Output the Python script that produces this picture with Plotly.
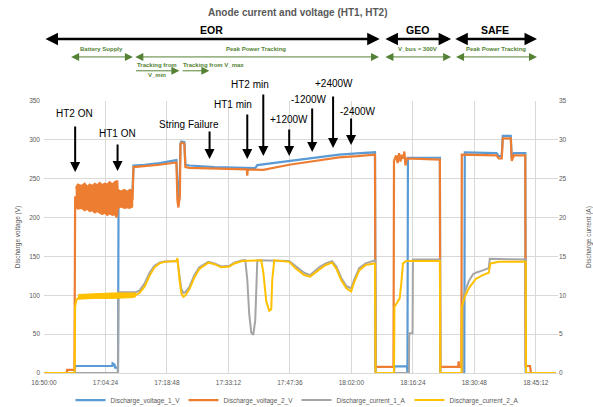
import plotly.graph_objects as go

DAY = "2021-03-15 "

# ---- Discharge voltage HT1 (V) ----
V1_T = ["16:50:00", "16:57:10", "16:57:20", "17:06:00", "17:06:04", "17:06:30", "17:06:40", "17:07:14",
        "17:07:20", "17:07:28", "17:10:44", "17:10:58", "17:13:32", "17:17:03", "17:21:01", "17:21:15",
        "17:21:29", "17:21:43", "17:21:58", "17:22:11", "17:22:53", "17:23:07", "17:24:04", "17:30:00",
        "17:37:09", "17:39:29", "17:39:58", "17:47:26", "17:53:00", "17:57:29", "17:59:08", "18:03:20",
        "18:07:19", "18:07:32", "18:07:40", "18:11:59", "18:12:05", "18:15:01", "18:15:08", "18:15:15",
        "18:22:44", "18:22:50", "18:28:27", "18:28:34", "18:36:00", "18:36:31", "18:37:13", "18:37:28",
        "18:39:20", "18:39:34", "18:40:05", "18:42:44", "18:42:50", "18:49:50"]
V1 = [0, 0, 9, 9, 12.5, 11, 7, 7,
      0, 232, 234, 267, 268, 270, 274, 230,
      218, 226, 296, 298, 297, 268, 267, 265,
      264, 263.5, 267.5, 273, 277, 280.5, 281, 282.5,
      284.5, 284, 0, 0, 8.5, 8.5, 0, 277,
      277, 0, 0, 284, 283, 279, 279, 305,
      305, 276, 283, 283, 0, 0]

# ---- Discharge voltage HT2 (V) ----
V2_T = ["16:50:00", "16:55:18", "16:55:25", "16:57:08", "16:57:18", "17:07:14", "17:07:28", "17:10:44",
        "17:10:58", "17:13:32", "17:17:03", "17:21:01", "17:21:08", "17:21:15", "17:21:29", "17:21:43",
        "17:21:50", "17:21:58", "17:22:11", "17:22:53", "17:23:07", "17:24:04", "17:30:00", "17:37:30",
        "17:37:37", "17:37:44", "17:41:22", "17:47:26", "17:53:00", "17:57:29", "17:59:08", "18:03:20",
        "18:07:19", "18:07:32", "18:07:40", "18:11:52", "18:11:59", "18:12:30", "18:12:50", "18:13:10",
        "18:13:30", "18:13:50", "18:14:10", "18:14:25", "18:14:40", "18:15:00", "18:22:44", "18:22:50",
        "18:27:00", "18:27:08", "18:27:15", "18:27:46", "18:27:52", "18:36:00", "18:36:31", "18:37:13",
        "18:37:28", "18:39:20", "18:39:34", "18:40:05", "18:42:44", "18:42:50", "18:43:50", "18:44:05",
        "18:49:50"]
V2 = [0, 0, 4, 4, 226, 226, 224, 224,
      265, 266, 268, 271, 232, 222, 213, 220,
      228, 294, 296.5, 295, 265, 264, 263, 262,
      254, 262, 261.5, 268, 272.5, 276, 277.5, 279,
      281.5, 281, 8, 8, 273, 280, 270, 283,
      272, 281, 276, 285, 267, 276, 274.5, 8,
      8, 15, 8, 8, 281, 280, 276, 276,
      302, 302, 273, 280, 280, 9, 9, 0,
      0]

# Ripple envelope of HT2 voltage during start-up
V2_RIP_T = ["16:57:25", "16:57:53", "16:58:50", "16:59:31", "17:00:10", "17:00:41", "17:01:20", "17:01:51",
            "17:02:30", "17:03:01", "17:03:40", "17:04:11", "17:04:50", "17:05:21", "17:06:00", "17:06:32",
            "17:07:00", "17:07:14", "17:07:20", "17:08:00", "17:08:52", "17:09:30", "17:10:02", "17:10:44"]
V2_RIP_HI = [238, 243, 241, 244, 240, 243, 241, 244, 242, 245, 242, 244,
             243, 246, 243, 246, 247, 247, 236, 234, 236, 233, 236, 235]
V2_RIP_LO = [214, 211, 212, 209, 211, 208, 209, 206, 208, 206, 204, 206,
             203, 205, 203, 204, 200, 204, 212, 214, 212, 213, 212, 214]

# ---- Discharge current HT1 (A) ----
I1_T = ["16:50:00", "17:07:20", "17:07:28", "17:11:26", "17:12:22", "17:13:32", "17:14:43", "17:15:53",
        "17:17:03", "17:18:13", "17:21:01", "17:21:15", "17:21:43", "17:22:11", "17:22:39", "17:23:07",
        "17:24:04", "17:25:14", "17:26:24", "17:28:30", "17:29:54", "17:31:32", "17:33:25", "17:34:35",
        "17:36:27", "17:37:09", "17:37:37", "17:38:05", "17:38:33", "17:39:01", "17:39:29", "17:39:44",
        "17:39:58", "17:47:26", "17:49:04", "17:50:56", "17:52:21", "17:54:27", "17:56:00", "17:57:29",
        "17:58:30", "17:59:40", "18:00:50", "18:01:56", "18:02:40", "18:03:50", "18:05:20", "18:07:19",
        "18:07:32", "18:07:40", "18:15:29", "18:15:33", "18:16:20", "18:16:25", "18:22:44", "18:22:50",
        "18:28:06", "18:28:12", "18:28:34", "18:29:30", "18:30:30", "18:31:08", "18:32:47", "18:34:11",
        "18:34:25", "18:42:50", "18:42:55", "18:49:50"]
I1 = [0, 0, 10.4, 10.4, 10.6, 11.5, 12.9, 13.8,
      14.2, 14.35, 14.4, 14.6, 12.6, 10.8, 10.3, 10.4,
      11.1, 12.6, 13.6, 14.3, 14.1, 13.7, 13.8, 14.2,
      14.5, 14.5, 12.0, 7.5, 5.2, 4.9, 6.8, 12.5,
      14.5, 14.4, 13.7, 12.9, 12.6, 13.6, 14.1, 14.4,
      13.7, 12.2, 11.2, 10.9, 12.0, 13.5, 14.1, 14.4,
      14.5, 0, 0, 5.1, 5.1, 14.6, 14.6, 0,
      0, 9.9, 10.4, 11.8, 12.7, 12.9, 13.2, 13.5,
      14.7, 14.6, 0, 0]

# ---- Discharge current HT2 (A) ----
I2_T = ["16:50:00", "16:57:10", "16:57:17", "16:57:35", "16:58:20", "17:07:14", "17:10:44", "17:11:26",
        "17:12:22", "17:13:32", "17:14:43", "17:15:53", "17:17:03", "17:18:13", "17:21:01", "17:21:15",
        "17:21:43", "17:22:11", "17:22:39", "17:23:07", "17:24:04", "17:25:14", "17:26:24", "17:28:30",
        "17:29:54", "17:31:32", "17:33:25", "17:34:35", "17:36:27", "17:40:53", "17:41:22", "17:42:04",
        "17:42:46", "17:43:14", "17:43:28", "17:43:56", "17:47:26", "17:49:04", "17:50:56", "17:52:21",
        "17:54:27", "17:56:00", "17:57:29", "17:58:30", "17:59:40", "18:00:50", "18:01:56", "18:02:40",
        "18:03:50", "18:05:20", "18:07:19", "18:07:32", "18:07:40", "18:11:59", "18:12:05", "18:12:41",
        "18:13:19", "18:13:41", "18:14:05", "18:14:47", "18:22:44", "18:22:50", "18:27:48", "18:27:52",
        "18:28:34", "18:29:30", "18:31:08", "18:32:47", "18:34:11", "18:34:35", "18:36:31", "18:42:50",
        "18:42:55", "18:49:50"]
I2 = [0, 0, 8.5, 9.4, 9.8, 9.9, 9.9, 10.0,
      10.3, 11.1, 12.5, 13.6, 14.1, 14.3, 14.4, 14.8,
      12.1, 10.2, 9.8, 10.0, 10.8, 12.3, 13.4, 14.2,
      14.0, 13.6, 13.7, 14.1, 14.4, 14.5, 13.0, 9.2,
      8.0, 8.2, 12.0, 14.5, 14.3, 13.4, 12.6, 12.4,
      13.3, 13.9, 14.2, 13.4, 11.9, 10.9, 10.5, 11.7,
      13.2, 13.9, 14.1, 14.1, 0, 0, 8.5, 9.0,
      9.6, 11.5, 14.1, 14.4, 14.4, 0, 0, 8.5,
      9.8, 10.9, 12.1, 12.6, 12.9, 14.1, 14.3, 14.3,
      0, 0]

# Ripple envelope of HT2 current during start-up
I2_RIP_T = ["16:58:00", "17:02:00", "17:06:00", "17:10:44", "17:11:26"]
I2_RIP_HI = [10.1, 10.2, 10.3, 10.3, 10.3]
I2_RIP_LO = [9.5, 9.6, 9.6, 9.7, 9.8]

# ---- Mission phases ----
PHASES = ["EOR", "GEO", "SAFE"]
PHASE_START = ["16:50:00", "18:09:38", "18:26:00"]
PHASE_END = ["18:08:38", "18:25:22", "18:45:29"]

MODES = ["Battery Supply", "Peak Power Tracking", "V_bus = 300V", "Peak Power Tracking"]
MODE_START = ["16:56:00", "17:11:02", "18:09:38", "18:26:10"]
MODE_END = ["17:10:49", "18:08:28", "18:25:22", "18:45:29"]

TRACK_START = ["17:11:12", "17:22:07"]
TRACK_END = ["17:21:43", "17:28:44"]

# ---- Events (arrow tip / tail and label position in volts) ----
EVENTS = ["HT2 ON", "HT1 ON", "String Failure", "HT1 min", "HT2 min", "+1200W", "-1200W", "+2400W", "-2400W"]
EVENT_T = ["16:57:18", "17:07:14", "17:28:47", "17:37:37", "17:41:22", "17:47:26", "17:52:49", "17:57:43", "18:01:56"]
EVENT_HEAD = [258.6, 260, 275.4, 275.4, 279.2, 279.2, 284.4, 289.5, 293.4]
EVENT_TAIL = [319, 296, 312.7, 334.6, 360.3, 315.3, 342.3, 357.7, 329.4]
EVENT_TEXT_T = ["16:57:11", "17:07:14", "17:24:00", "17:34:13", "17:38:16", "17:47:26", "17:52:06", "17:57:57", "18:03:28"]
EVENT_TEXT_Y = [333.3, 308.8, 320.4, 344.9, 370.6, 325.6, 351.3, 371.9, 337.1]

V_MAX = 350


def ts(values):
    return [DAY + v for v in values]


def mid(a, b):
    import pandas as pd
    ta, tb = pd.Timestamp(DAY + a), pd.Timestamp(DAY + b)
    return str(ta + (tb - ta) / 2)


BLUE, ORANGE, GREY, YELLOW = "#5B9BD5", "#ED7D31", "#A5A5A5", "#FFC000"
GREEN = "#548235"
FONT = "Liberation Sans"
TXT = "#595959"

fig = go.Figure()

fig.add_trace(go.Scatter(x=ts(V1_T), y=V1, name="Discharge_voltage_1_V", mode="lines",
                         line=dict(color=BLUE, width=2.2)))
fig.add_trace(go.Scatter(x=ts(V2_RIP_T) + ts(V2_RIP_T)[::-1], y=V2_RIP_HI + V2_RIP_LO[::-1],
                         mode="lines", fill="toself", fillcolor=ORANGE,
                         line=dict(color=ORANGE, width=1.5), showlegend=False, hoverinfo="skip"))
fig.add_trace(go.Scatter(x=ts(V2_T), y=V2, name="Discharge_voltage_2_V", mode="lines",
                         line=dict(color=ORANGE, width=2.2)))
fig.add_trace(go.Scatter(x=ts(I1_T), y=I1, name="Discharge_current_1_A", mode="lines",
                         line=dict(color=GREY, width=2), yaxis="y2"))
fig.add_trace(go.Scatter(x=ts(I2_RIP_T) + ts(I2_RIP_T)[::-1], y=I2_RIP_HI + I2_RIP_LO[::-1],
                         mode="lines", fill="toself", fillcolor=YELLOW,
                         line=dict(color=YELLOW, width=1), showlegend=False, hoverinfo="skip", yaxis="y2"))
fig.add_trace(go.Scatter(x=ts(I2_T), y=I2, name="Discharge_current_2_A", mode="lines",
                         line=dict(color=YELLOW, width=2), yaxis="y2"))

ann = []


def label(x, y, text, size, color, xref="x", yref="y domain", xanchor="center", bold=False):
    ann.append(dict(xref=xref, yref=yref, x=x, y=y, text=text, showarrow=False,
                    xanchor=xanchor, yanchor="middle",
                    font=dict(family=FONT, size=size, color=color, weight="bold" if bold else "normal")))


def span_arrow(a, b, y, color, width, size, both=True):
    ann.append(dict(xref="x", yref="y domain", axref="x", ayref="y domain",
                    x=DAY + b, y=y, ax=DAY + a, ay=y, text="", showarrow=True,
                    arrowside="end+start" if both else "end", arrowhead=2, arrowsize=size,
                    arrowwidth=width, arrowcolor=color))


# chart title
label(0.493, 1.327, "Anode current and voltage (HT1, HT2)", 10, TXT, xref="paper", yref="paper", bold=True)

# phase bars (black double arrows)
for name, a, b in zip(PHASES, PHASE_START, PHASE_END):
    span_arrow(a, b, 1.228, "black", 2.5, 1)
    label(mid(a, b), 1.262, name, 10.5, "black", bold=True)

# power modes (green double arrows)
for name, a, b in zip(MODES, MODE_START, MODE_END):
    span_arrow(a, b, 1.162, GREEN, 1, 1.6)
    label(mid(a, b), 1.19, name, 6, GREEN, bold=True)

for a, b in zip(TRACK_START, TRACK_END):
    span_arrow(a, b, 1.111, GREEN, 1, 1.6, both=False)
label(mid(TRACK_START[0], TRACK_END[0]), 1.134, "Tracking from", 6, GREEN, bold=True)
label(mid(TRACK_START[0], TRACK_END[0]), 1.094, "V_min", 6, GREEN, bold=True)
label(DAY + TRACK_START[1], 1.133, "Tracking from V_max", 6, GREEN, xanchor="left", bold=True)

# event markers (voltage positions expressed as fractions of the voltage axis)
for name, t, head, tail, tt, ty in zip(EVENTS, EVENT_T, EVENT_HEAD, EVENT_TAIL, EVENT_TEXT_T, EVENT_TEXT_Y):
    ann.append(dict(xref="x", yref="y domain", axref="x", ayref="y domain", x=DAY + t, y=head / V_MAX,
                    ax=DAY + t, ay=tail / V_MAX,
                    text="", showarrow=True, arrowhead=2, arrowsize=1, arrowwidth=2, arrowcolor="black"))
    label(DAY + tt, ty / V_MAX, name, 10, "black")

fig.update_layout(
    width=593, height=407,
    margin=dict(l=44, r=35, t=101, b=34),
    paper_bgcolor="white", plot_bgcolor="white",
    font=dict(family=FONT, size=7, color=TXT),
    showlegend=True,
    legend=dict(orientation="h", x=0.5, xanchor="center", xref="container", y=0.017, yanchor="middle",
                yref="container", font=dict(family=FONT, size=6.5, color=TXT), entrywidth=68, itemwidth=30),
    annotations=ann,
    xaxis=dict(type="date", range=[DAY + "16:50:00", DAY + "18:50:24"], tick0=DAY + "16:50:00",
               dtick=864000, tickformat="%H:%M:%S", showgrid=True, gridcolor="#D9D9D9", gridwidth=1,
               showline=True, linecolor="#D9D9D9", ticks="", zeroline=False, automargin=False,
               ticklabelstandoff=3, tickfont=dict(family=FONT, size=6.5, color=TXT)),
    yaxis=dict(range=[0, V_MAX], dtick=50, showgrid=True, gridcolor="#D9D9D9", gridwidth=1, zeroline=False,
               showline=False, ticks="", tickfont=dict(family=FONT, size=6.5, color=TXT), automargin=False,
               ticklabelstandoff=3,
               title=dict(text="Discharge voltage (V)", font=dict(family=FONT, size=6.5, color=TXT), standoff=7)),
    yaxis2=dict(range=[0, 35], dtick=5, overlaying="y", side="right", showgrid=False, zeroline=False,
                showline=False, ticks="", tickfont=dict(family=FONT, size=6.5, color=TXT), automargin=False,
                title=dict(text="Discharge current (A)", font=dict(family=FONT, size=6.5, color=TXT), standoff=22)),
)

fig.write_html("out.html")
